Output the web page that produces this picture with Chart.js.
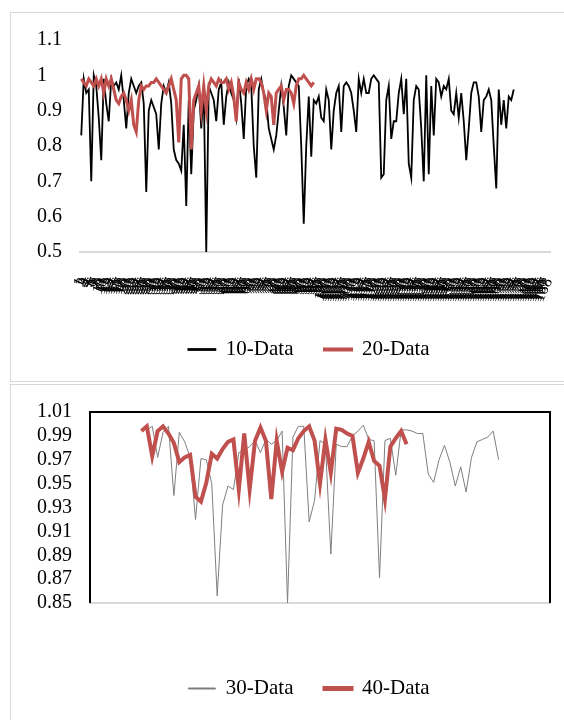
<!DOCTYPE html>
<html>
<head>
<meta charset="utf-8">
<script src="https://cdn.jsdelivr.net/npm/chart.js@4"></script>
<style>
  body { margin: 0; background: #fff; width: 564px; height: 720px; overflow: hidden; position: relative; }
  .box { position: absolute; left: 10px; width: 600px; border: 1px solid #d9d9d9; overflow: hidden; background: #fff; }
  #box1 { top: 12px; height: 368px; }
  #box2 { top: 384px; height: 340px; }
  canvas { position: absolute; left: 0; top: 0; }
</style>
</head>
<body>
<div class="box" id="box1"><canvas id="chart1" width="553" height="368"></canvas></div>
<div class="box" id="box2"><canvas id="chart2" width="553" height="336"></canvas></div>
<script>
// top chart
const labels10 = Array.from({ length: 188 }, (_, i) => String(i + 1));
const data10 = [
  0.83, 0.99, 0.95, 0.96, 0.70, 1.00, 0.97, 0.88, 0.76, 0.99,
  0.92, 0.87, 0.99, 0.97, 0.98, 0.96, 1.00, 0.93, 0.85, 0.95,
  0.99, 0.97, 0.95, 0.97, 0.98, 0.92, 0.67, 0.90, 0.93, 0.91,
  0.89, 0.79, 0.92, 0.97, 0.95, 0.98, 0.92, 0.79, 0.76, 0.75,
  0.73, 0.86, 0.63, 0.93, 0.72, 0.90, 0.93, 0.97, 0.85, 0.96,
  0.50, 0.97, 0.95, 0.93,
  0.87, 0.96, 0.98, 0.86, 0.94, 0.98, 0.95, 0.93, 0.88, 0.99,
  0.92, 0.82, 0.97, 0.99, 0.97, 0.80, 0.71, 0.96, 0.99, 0.95,
  0.93, 0.85, 0.82, 0.79, 0.83, 0.90, 0.97, 0.91, 0.83, 0.97,
  1.00, 0.99, 0.98, 0.97, 0.80, 0.58, 0.80, 0.94, 0.77, 0.93,
  0.92, 0.94, 0.88, 0.87, 0.96, 0.93, 0.79, 0.90, 0.95, 0.97,
  0.84, 0.97, 0.98, 0.97, 0.95, 0.90,
  0.84, 0.99, 0.95, 0.99, 0.95, 0.95, 0.99, 1.00, 0.99, 0.98,
  0.71, 0.72, 0.93, 0.97, 0.82, 0.87, 0.87, 0.95, 0.99, 0.89,
  0.99, 0.75, 0.71, 0.93, 0.97, 0.96, 0.85, 0.70, 1.00, 0.72,
  0.97, 0.83, 0.99, 0.98, 0.94, 0.97, 0.96, 0.99, 0.90, 0.89,
  0.95, 0.88, 0.95, 0.87, 0.76, 0.85, 0.95, 0.98, 0.98, 0.94,
  0.84, 0.93, 0.94, 0.96, 0.93, 0.80, 0.68, 0.96, 0.86, 0.93,
  0.85, 0.94, 0.93, 0.96
];
const data20 = [
  0.99, 0.98, 0.97, 0.99, 0.98, 0.97, 0.99, 0.97, 0.99, 0.95,
  0.99, 0.97, 0.99, 0.96, 0.93, 0.92, 0.94, 0.95, 0.93, 0.90,
  0.93, 0.86, 0.84, 0.93, 0.97, 0.96, 0.97, 0.97, 0.98, 0.98,
  0.99, 0.98, 0.97, 0.96, 0.95, 0.97, 0.99, 0.96, 0.93, 0.81,
  0.99, 1.00, 1.00, 0.99, 0.79, 0.93, 0.95, 0.97, 0.90, 0.97,
  0.90, 0.97, 0.99,
  0.98, 0.97, 0.99, 0.98, 0.98, 0.99, 0.96, 0.98, 0.94, 0.87,
  0.98, 0.96, 0.95, 0.98, 0.96, 0.99, 0.96, 0.99, 0.99, 0.98,
  0.95, 0.90, 0.95, 0.94, 0.86, 0.95, 0.96, 0.97, 0.93, 0.96,
  0.96, 0.95, 0.92, 0.97, 0.99, 0.99, 1.00, 0.99, 0.98, 0.97,
  0.98
];

// bottom chart
const labels30 = Array.from({ length: 85 }, (_, i) => String(i + 1));
const start30 = 10;
const start40 = 9;
const data30 = [
  0.995, 0.998, 0.972, 0.993, 0.998, 0.940, 0.993, 0.985, 0.972, 0.920,
  0.971, 0.970, 0.950, 0.856, 0.932, 0.948, 0.945, 0.976, 0.978, 0.981,
  0.986, 0.976, 0.987, 0.983, 0.986, 0.994, 0.850, 0.989, 0.998, 0.998,
  0.918, 0.936, 0.986, 0.983, 0.891, 0.983, 0.981, 0.981, 0.990, 0.994,
  0.999, 0.987, 0.986, 0.871, 0.986, 0.988, 0.957, 0.995,
  0.995, 0.994, 0.992, 0.992, 0.958, 0.951, 0.970, 0.982, 0.968, 0.948,
  0.964, 0.943, 0.972, 0.985, 0.987, 0.989, 0.994, 0.970
];
const data40 = [
  0.994, 0.998, 0.973, 0.994, 0.998, 0.992, 0.984, 0.968, 0.972, 0.974,
  0.939, 0.935, 0.951, 0.975, 0.971, 0.979, 0.985, 0.987, 0.945, 0.992,
  0.945, 0.986, 0.997, 0.986, 0.937, 0.986, 0.960, 0.980, 0.978, 0.988,
  0.994, 0.998, 0.986, 0.950, 0.987, 0.959, 0.996, 0.995, 0.992, 0.990,
  0.959, 0.971, 0.985, 0.969, 0.965, 0.937, 0.981, 0.988, 0.994, 0.983
];

const serif = "'Liberation Serif', 'Times New Roman', serif";

function pad(start, values) {
  return Array(start).fill(null).concat(values);
}

// black frame around the plot area (left, top, right)
const frame = {
  id: "frame",
  afterDraw(chart) {
    const a = chart.chartArea;
    const ctx = chart.ctx;
    ctx.save();
    ctx.strokeStyle = "#000";
    ctx.lineWidth = 2;
    ctx.beginPath();
    ctx.moveTo(a.left, a.bottom);
    ctx.lineTo(a.left, a.top);
    ctx.lineTo(a.right, a.top);
    ctx.lineTo(a.right, a.bottom);
    ctx.stroke();
    ctx.restore();
  }
};

// nudge the legend sideways
function legendShift(dx) {
  return {
    id: "legendShift",
    afterLayout(chart) {
      chart.legend.left += dx;
      chart.legend.right += dx;
    }
  };
}

function fitX(h) {
  return (s) => {
    s.height = h;
    s.paddingLeft = 0;
    s.paddingRight = 0;
  };
}

const legendLabels = {
  font: { family: serif, size: 21 },
  color: "#000",
  boxWidth: 27,
  boxHeight: 1,
  padding: 31,
  sort: (a, b) => a.datasetIndex - b.datasetIndex
};

new Chart(document.getElementById("chart1"), {
  type: "line",
  data: {
    labels: labels10,
    datasets: [
      { label: "10-Data", data: data10, order: 2, borderColor: "#000", backgroundColor: "#000", borderWidth: 1.8, pointRadius: 0, tension: 0 },
      { label: "20-Data", data: data20, order: 1, borderColor: "#c0504d", backgroundColor: "#c0504d", borderWidth: 3, pointRadius: 0, tension: 0 }
    ]
  },
  options: {
    responsive: false,
    animation: false,
    layout: { padding: { left: 26, right: 14, top: 27, bottom: 11 } },
    plugins: {
      tooltip: { enabled: false },
      legend: { position: "bottom", fullSize: false, labels: legendLabels }
    },
    scales: {
      x: {
        offset: true,
        grid: { display: false },
        border: { color: "#d9d9d9", width: 2 },
        ticks: { autoSkip: false, minRotation: 65, maxRotation: 65, padding: 15, font: { family: serif, size: 16 }, color: "#000" },
        afterFit: fitX(56)
      },
      y: {
        min: 0.5,
        max: 1.1,
        grid: { display: false },
        border: { display: false },
        ticks: { stepSize: 0.1, crossAlign: "far", font: { family: serif, size: 20 }, color: "#000", callback: (v) => String(+v.toFixed(2)) },
        afterFit: (s) => { s.width = 43; }
      }
    }
  },
  plugins: [legendShift(-6)]
});

new Chart(document.getElementById("chart2"), {
  type: "line",
  data: {
    labels: labels30,
    datasets: [
      { label: "30-Data", data: pad(start30, data30), order: 2, borderColor: "#7f7f7f", backgroundColor: "#7f7f7f", borderWidth: 1, pointRadius: 0, tension: 0 },
      { label: "40-Data", data: pad(start40, data40), order: 1, borderColor: "#c0504d", backgroundColor: "#c0504d", borderWidth: 4, pointRadius: 0, tension: 0 }
    ]
  },
  options: {
    responsive: false,
    animation: false,
    layout: { padding: { left: 26, right: 14, top: 27, bottom: 12 } },
    plugins: {
      tooltip: { enabled: false },
      legend: { position: "bottom", fullSize: false, labels: legendLabels }
    },
    scales: {
      x: {
        offset: true,
        grid: { display: false },
        border: { color: "#d9d9d9", width: 2 },
        ticks: { display: false },
        afterFit: fitX(44)
      },
      y: {
        min: 0.85,
        max: 1.01,
        grid: { display: false },
        border: { display: false },
        ticks: { stepSize: 0.02, autoSkip: false, crossAlign: "far", font: { family: serif, size: 20 }, color: "#000", callback: (v) => v.toFixed(2) },
        afterFit: (s) => { s.width = 53; }
      }
    }
  },
  plugins: [frame, legendShift(-11)]
});
</script>
</body>
</html>
